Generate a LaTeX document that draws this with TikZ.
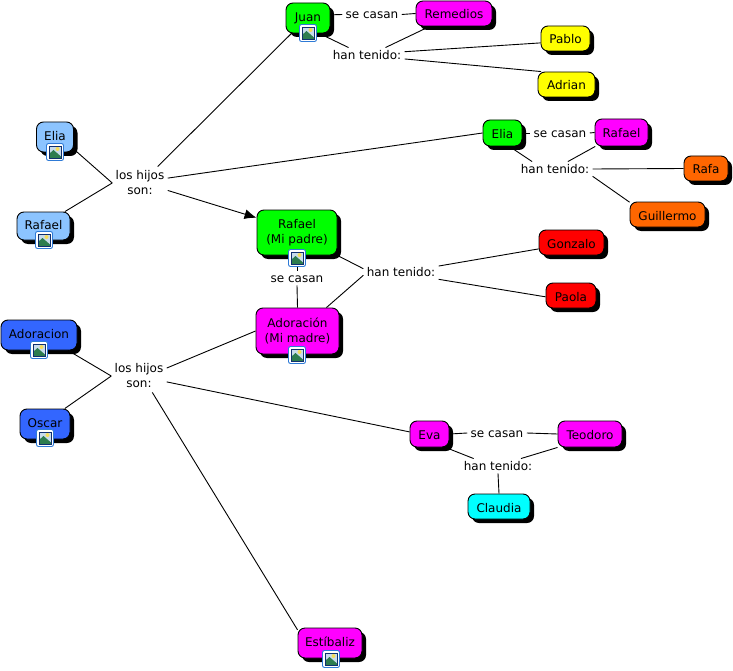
\documentclass[tikz,border=0pt]{standalone}
\usepackage{fontspec}
\setmainfont{DejaVu Sans}
\usetikzlibrary{shadows, arrows.meta}

\definecolor{lightblue}{RGB}{140,196,255}
\definecolor{darkblue}{RGB}{51,102,255}
\definecolor{orangec}{RGB}{255,102,0}
\definecolor{greenc}{RGB}{0,255,0}
\definecolor{magentac}{RGB}{255,0,255}
\definecolor{yellowc}{RGB}{255,255,0}
\definecolor{redc}{RGB}{255,0,0}
\definecolor{cyanc}{RGB}{0,255,255}
\definecolor{iconblue}{RGB}{46,122,214}
\definecolor{iconnavy}{RGB}{16,48,110}
\definecolor{iconsky}{RGB}{200,220,236}
\definecolor{iconsun}{RGB}{245,220,90}
\definecolor{icongreen}{RGB}{46,125,79}

\tikzset{
    every path/.style={line width=0.9pt},
    concept/.style={draw, rounded corners=7pt, inner sep=0pt, align=center,
        drop shadow={shadow xshift=4pt, shadow yshift=-4pt, opacity=1, fill=black}},
    oneline/.style={concept, text height=11pt, text depth=0pt},
    withicon/.style={concept, text height=11pt, text depth=4pt},
    sized/.style 2 args={minimum width=#1pt, minimum height=#2pt},
    hijos/.style={inner xsep=3pt, inner ysep=0pt, minimum height=32pt, align=center},
    link/.style={inner xsep=3pt, inner ysep=0pt, minimum height=14pt, text height=9pt, text depth=0pt},
    imgicon/.pic={
        \draw[iconblue, fill=white, line width=0.9pt, rounded corners=2pt] (-8.5,-8.5) rectangle (8.5,8.5);
        \fill[iconsky] (-6,-6) rectangle (6,6);
        \fill[iconsun] (2.5,-3) circle (2);
        \fill[icongreen] (-6,6) -- (-6,2) -- (-1.5,-2) -- (6,4.5) -- (6,6) -- cycle;
        \draw[iconnavy, line width=0.9pt] (-6,-6) rectangle (6,6);
    }
}

\begin{document}
\begin{tikzpicture}[x=1pt, y=-1pt, font=\fontsize{12}{15}\selectfont]
    \useasboundingbox (0,0) rectangle (733,671);

    \node (juan)  [withicon, fill=greenc, sized={44}{30}] at (308,18) {Juan};
    \node (remedios) [oneline, fill=magentac, sized={76}{25}] at (454,13.5) {Remedios};
    \node (pablo)  [oneline, fill=yellowc, sized={49}{25}] at (565.5,38.5) {Pablo};
    \node (adrian) [oneline, fill=yellowc, sized={57}{25}] at (566.5,84.5) {Adrian};

    \node (eliagreen) [oneline, fill=greenc, sized={39}{26}] at (502.5,133) {Elia};
    \node (rafaelmag) [oneline, fill=magentac, sized={53}{27}] at (621.5,132.5) {Rafael};
    \node (rafa)   [oneline, fill=orangec, sized={44}{25}] at (706,168.5) {Rafa};
    \node (guille) [oneline, fill=orangec, sized={75}{25}] at (667.5,214.5) {Guillermo};

    \node (eliablue) [withicon, fill=lightblue, sized={37}{30}] at (55,137) {Elia};
    \node (rafaelblue) [withicon, fill=lightblue, sized={53}{28}] at (43.5,226) {Rafael};
    \node (padre) [concept, fill=greenc, sized={80}{45}] at (297,232.5) {Rafael\\(Mi padre)};
    \node (madre) [concept, fill=magentac, sized={83}{46}] at (297.5,331) {Adoración\\(Mi madre)};
    \node (gonzalo) [oneline, fill=redc, sized={65}{25}] at (571.5,242.5) {Gonzalo};
    \node (paola)   [oneline, fill=redc, sized={50}{25}] at (571,295.5) {Paola};

    \node (adoblue) [withicon, fill=darkblue, sized={76}{30}] at (39,335) {Adoracion};
    \node (oscar)   [withicon, fill=darkblue, sized={50}{30}] at (45,424) {Oscar};
    \node (eva)     [oneline, fill=magentac, sized={39}{26}] at (429.5,434) {Eva};
    \node (teodoro) [oneline, fill=magentac, sized={64}{26}] at (590,434) {Teodoro};
    \node (claudia) [oneline, fill=cyanc, sized={62}{25}] at (499,506.5) {Claudia};
    \node (estibaliz) [withicon, fill=magentac, sized={64}{30}] at (330,643) {Estíbaliz};

    \node (casan1) [link] at (372,14.5) {se casan};
    \node (casan2) [link] at (560,133) {se casan};
    \node (casan3) [link] at (297,278) {se casan};
    \node (casan4) [link] at (497,433) {se casan};
    \node (han1) [link] at (367,55) {han tenido:};
    \node (han2) [link] at (555,169) {han tenido:};
    \node (han3) [link] at (401,272) {han tenido:};
    \node (han4) [link] at (498,466) {han tenido:};
    \node (hijos1) [hijos] at (140,183) {los hijos\\son:};
    \node (hijos2) [hijos] at (139,376) {los hijos\\son:};

    \path (eliablue.327) edge (hijos1.west);
    \path (rafaelblue.34) edge (hijos1.west);
    \path (hijos1.43) edge (juan.223);
    \path (hijos1.10) edge (eliagreen.west);
    \path (hijos1.345) edge [-{Latex[length=12pt,width=10pt]}] (padre.160);

    \path (juan.8) edge (casan1.west);
    \path (casan1.east) edge (remedios.west);
    \path (juan.306) edge (han1.158);
    \path (remedios.208) edge (han1.22);
    \path (han1.5) edge (pablo.190);
    \path (han1.354) edge (adrian.153);

    \path (eliagreen.east) edge (casan2.west);
    \path (casan2.east) edge (rafaelmag.west);
    \path (eliagreen.297) edge (han2.162);
    \path (rafaelmag.208) edge (han2.30);
    \path (han2.east) edge (rafa.west);
    \path (han2.349) edge (guille.162);

    \path (padre.south) edge (casan3.north);
    \path (casan3.south) edge (madre.north);
    \path (padre.south east) edge (han3.175);
    \path (madre.39) edge (han3.185);
    \path (han3.9) edge (gonzalo.191);
    \path (han3.349) edge (paola.183);

    \path (adoblue.332) edge (hijos2.west);
    \path (oscar.38) edge (hijos2.west);
    \path (hijos2.16) edge (madre.west);
    \path (hijos2.348) edge (eva.174);
    \path (hijos2.309) edge (estibaliz.158);

    \path (eva.east) edge (casan4.west);
    \path (casan4.east) edge (teodoro.west);
    \path (eva.320) edge (han4.163);
    \path (teodoro.south west) edge (han4.18);
    \path (han4.south) edge (claudia.north);

    \path (308,33) pic {imgicon};
    \path (55,152) pic {imgicon};
    \path (44,240) pic {imgicon};
    \path (297,258) pic {imgicon};
    \path (297,355) pic {imgicon};
    \path (39,350) pic {imgicon};
    \path (45,438) pic {imgicon};
    \path (331,659) pic {imgicon};
\end{tikzpicture}
\end{document}
